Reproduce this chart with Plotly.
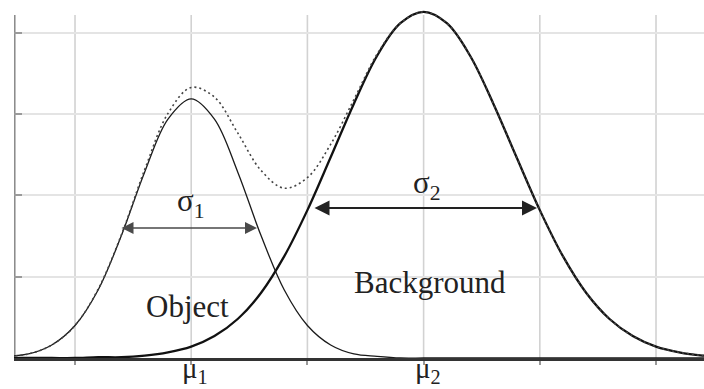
import plotly.graph_objects as go

# Sample positions along the intensity axis
x_vals = [0.4, 0.6, 0.8, 1.0, 1.2, 1.4, 1.6, 1.8, 2.0, 2.2, 2.4, 2.6, 2.8, 3.0,
          3.2, 3.4, 3.6, 3.8, 4.0, 4.2, 4.4, 4.6, 4.8, 5.0, 5.2, 5.4, 5.6, 5.8,
          6.0, 6.2, 6.4, 6.6]

# Object class distribution (centred on mu1)
object_vals = [0.02, 0.05, 0.16, 0.40, 0.84, 1.51, 2.29, 2.94, 3.19, 2.94, 2.29,
               1.51, 0.84, 0.40, 0.16, 0.05, 0.02, 0.00, 0.00, 0.00, 0.00, 0.00,
               0.00, 0.00, 0.00, 0.00, 0.00, 0.00, 0.00, 0.00, 0.00, 0.00]

# Background class distribution (centred on mu2)
background_vals = [0.00, 0.00, 0.00, 0.00, 0.01, 0.01, 0.03, 0.07, 0.14, 0.27,
                   0.48, 0.80, 1.25, 1.82, 2.47, 3.13, 3.72, 4.12, 4.26, 4.12,
                   3.72, 3.13, 2.47, 1.82, 1.25, 0.80, 0.48, 0.27, 0.14, 0.07,
                   0.03, 0.01]

# Combined histogram (dotted envelope)
mixture_vals = [0.02, 0.05, 0.16, 0.40, 0.85, 1.52, 2.32, 3.01, 3.33, 3.21, 2.77,
                2.31, 2.09, 2.22, 2.63, 3.18, 3.74, 4.12, 4.26, 4.12, 3.72, 3.13,
                2.47, 1.82, 1.25, 0.80, 0.48, 0.27, 0.14, 0.07, 0.03, 0.01]

# Grid positions and the labelled means
x_ticks = [1, 2, 3, 4, 5, 6]
mean_positions = [2, 4]
mean_labels = ["\u03bc<sub>1</sub>", "\u03bc<sub>2</sub>"]
y_ticks = [1, 2, 3, 4]

# Width markers: [left end, right end, level]
sigma1_span = [1.387, 2.566, 1.60]
sigma2_span = [3.048, 4.976, 1.846]

SERIF = "Liberation Serif, Times New Roman, serif"
X_RANGE = [0.475, 6.413]
Y_RANGE = [0, 4.406]
GRID_TOP = 4.22

fig = go.Figure()

fig.add_trace(go.Scatter(
    x=x_vals, y=background_vals, mode="lines", line_shape="spline",
    line=dict(color="#111111", width=2.3), hoverinfo="skip"))
fig.add_trace(go.Scatter(
    x=x_vals, y=object_vals, mode="lines", line_shape="spline",
    line=dict(color="#1a1a1a", width=1.3), hoverinfo="skip"))
fig.add_trace(go.Scatter(
    x=x_vals, y=mixture_vals, mode="lines", line_shape="spline",
    line=dict(color="#444444", width=1.6, dash="2px,3px"), hoverinfo="skip"))

# Vertical grid lines stop a little below the top edge
shapes = []
for xv in x_ticks:
    shapes.append(dict(type="line", xref="x", yref="y", x0=xv, x1=xv,
                       y0=0, y1=GRID_TOP, layer="below",
                       line=dict(color="#d2d2d2", width=1.6)))
# Left axis line
shapes.append(dict(type="line", xref="x", yref="y", x0=X_RANGE[0] + 0.004,
                   x1=X_RANGE[0] + 0.004, y0=0, y1=GRID_TOP, layer="below",
                   line=dict(color="#8c8c8c", width=2.2)))

annotations = []
for span, color, width in [(sigma1_span, "#4a4a4a", 1.6),
                           (sigma2_span, "#222222", 2.0)]:
    annotations.append(dict(
        x=span[1], y=span[2], ax=span[0], ay=span[2],
        xref="x", yref="y", axref="x", ayref="y", text="",
        showarrow=True, arrowside="end+start",
        arrowhead=2, startarrowhead=2,
        arrowsize=1.5, startarrowsize=1.5,
        arrowwidth=width, arrowcolor=color))

label_font = dict(family=SERIF, size=31, color="#222222")
annotations += [
    dict(x=2.0, y=1.91, xref="x", yref="y", text="\u03c3<sub>1</sub>",
         showarrow=False, font=label_font),
    dict(x=4.03, y=2.13, xref="x", yref="y", text="\u03c3<sub>2</sub>",
         showarrow=False, font=label_font),
    dict(x=1.972, y=0.628, xref="x", yref="y", text="Object",
         showarrow=False, font=label_font),
    dict(x=4.055, y=0.935, xref="x", yref="y", text="Background",
         showarrow=False, font=label_font),
]
# Mean labels sit just under the baseline (paper coordinates)
for xm, lab in zip(mean_positions, mean_labels):
    annotations.append(dict(x=xm, y=-0.039, xref="x", yref="paper", text=lab,
                            xanchor="center", yanchor="middle",
                            xshift=4, yshift=2, showarrow=False,
                            font=dict(family=SERIF, size=29, color="#222222")))

fig.update_layout(
    width=704, height=389,
    margin=dict(l=14, r=0, t=0, b=31),
    paper_bgcolor="white", plot_bgcolor="white",
    showlegend=False,
    shapes=shapes, annotations=annotations,
    xaxis=dict(range=X_RANGE, tickvals=x_ticks, showticklabels=False,
               automargin=False, showgrid=False, zeroline=False,
               showline=True, linecolor="#333333", linewidth=2.5,
               ticks="outside", ticklen=4, tickcolor="#999999", tickwidth=1.5),
    yaxis=dict(range=Y_RANGE, tickvals=y_ticks, showticklabels=False,
               automargin=False, showgrid=True, gridcolor="#e4e4e4", gridwidth=2,
               zeroline=False, showline=False,
               ticks="inside", ticklen=8, tickcolor="#9a9a9a", tickwidth=2),
)

fig.write_html("out.html")
